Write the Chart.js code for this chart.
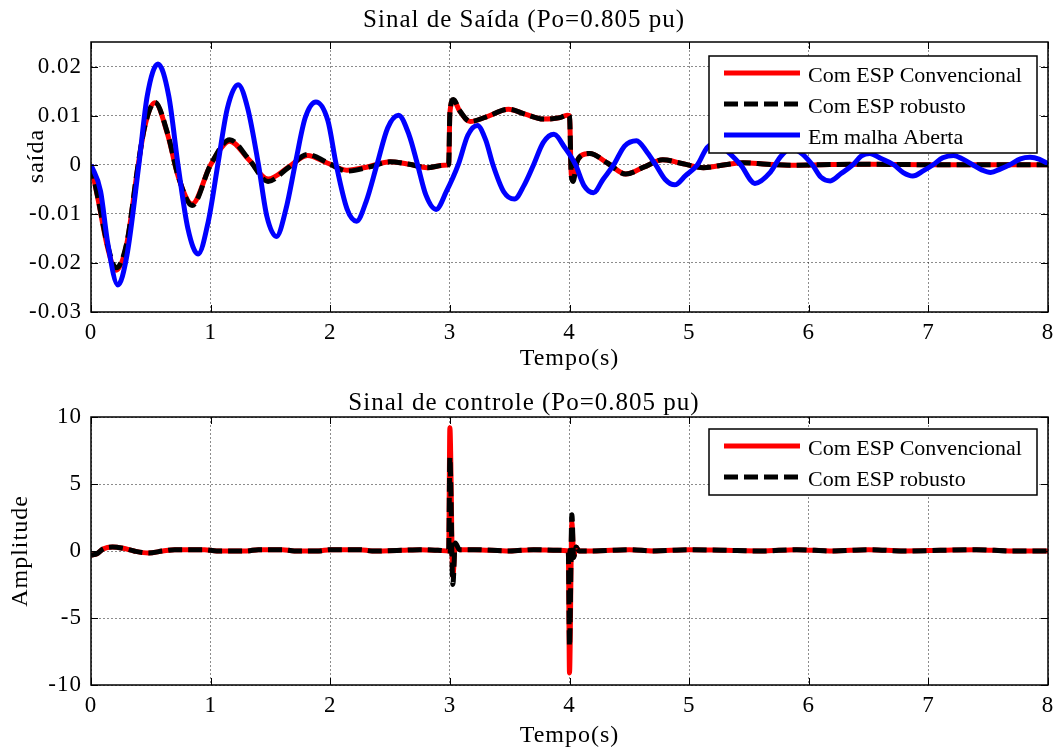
<!DOCTYPE html>
<html>
<head>
<meta charset="utf-8">
<title>Sinal de Saída e Sinal de controle</title>
<script src="https://cdn.jsdelivr.net/npm/chart.js@4.4.1/dist/chart.umd.min.js"></script>
<style>
    body { margin: 0; background: #fff; }
    canvas { display: block; }
</style>
</head>
<body>
<canvas id="saidaChart" width="1061" height="374"></canvas>
<canvas id="controleChart" width="1061" height="374"></canvas>
<script>
// ---- dados ---------------------------------------------------------------

// Sinal de saida, com ESP (convencional e robusto)
const tSaidaEsp = [0, 0.06, 0.14, 0.21, 0.30, 0.39, 0.45, 0.535, 0.64, 0.73, 0.845, 1.0, 1.16, 1.32, 1.48,
    1.65, 1.81, 1.98, 2.14, 2.32, 2.5, 2.66, 2.81, 2.95, 2.99, 3.0, 3.03, 3.08, 3.17, 3.3, 3.49, 3.63, 3.78,
    3.92, 3.98, 4.0, 4.015, 4.03, 4.06, 4.10, 4.17, 4.32, 4.47, 4.62, 4.78, 4.95, 5.12, 5.3, 5.45, 5.65, 5.85,
    6.1, 6.5, 7.0, 7.5, 8.0];
const saidaConvencional = [0, -0.0072, -0.0170, -0.0215, -0.0160, -0.0008, 0.0078, 0.0126, 0.0062, -0.0025,
    -0.0080, 0.0000, 0.0048, 0.0010, -0.0029, -0.0005, 0.0019, 0.0003, -0.0011, -0.0004, 0.0006, 0.0001,
    -0.0006, -0.0001, 0.0000, 0.0105, 0.0132, 0.0110, 0.0088, 0.0097, 0.0113, 0.0103, 0.0093, 0.0096, 0.0101,
    0.0100, -0.0020, -0.0029, 0.0005, 0.0019, 0.0023, 0.0003, -0.0019, -0.0005, 0.0010, 0.0002, -0.0006,
    0.0000, 0.0004, 0.0001, -0.0001, 0.0000, 0.0001, 0.0000, 0.0000, 0.0000];
const saidaRobusto = [0, -0.0070, -0.0165, -0.0210, -0.0158, -0.0006, 0.0079, 0.0127, 0.0064, -0.0024,
    -0.0083, 0.0000, 0.0051, 0.0011, -0.0034, -0.0006, 0.0021, 0.0004, -0.0013, -0.0005, 0.0006, 0.0001,
    -0.0006, -0.0001, 0.0000, 0.0105, 0.0133, 0.0111, 0.0088, 0.0097, 0.0113, 0.0103, 0.0093, 0.0096, 0.0101,
    0.0100, -0.0024, -0.0034, 0.0004, 0.0019, 0.0023, 0.0003, -0.0019, -0.0005, 0.0010, 0.0002, -0.0006,
    0.0000, 0.0004, 0.0001, -0.0001, 0.0000, 0.0001, 0.0000, 0.0000, 0.0000];

// Sinal de saida em malha aberta
const tSaidaAberta = [0, 0.08, 0.14, 0.225, 0.30, 0.40, 0.47, 0.56, 0.65, 0.73, 0.81, 0.895, 0.98, 1.06, 1.14,
    1.23, 1.31, 1.40, 1.47, 1.55, 1.63, 1.71, 1.79, 1.88, 1.98, 2.05, 2.14, 2.22, 2.30, 2.39, 2.48, 2.57, 2.66,
    2.73, 2.80, 2.885, 2.97, 3.07, 3.15, 3.23, 3.30, 3.36, 3.45, 3.54, 3.62, 3.70, 3.78, 3.87, 3.96, 4.05, 4.12,
    4.20, 4.28, 4.37, 4.46, 4.56, 4.65, 4.72, 4.80, 4.88, 4.97, 5.07, 5.15, 5.24, 5.33, 5.43, 5.55, 5.68, 5.76,
    5.85, 5.93, 6.03, 6.10, 6.18, 6.27, 6.37, 6.44, 6.51, 6.60, 6.71, 6.79, 6.87, 6.96, 7.04, 7.12, 7.21, 7.29,
    7.37, 7.45, 7.52, 7.60, 7.68, 7.77, 7.85, 7.93, 8.0];
const saidaAberta = [0, -0.0054, -0.0160, -0.0245, -0.0185, 0.0000, 0.0140, 0.0205, 0.0140, -0.0005, -0.0130,
    -0.0182, -0.0116, 0.0000, 0.0115, 0.0163, 0.0115, 0.0000, -0.0105, -0.0146, -0.0090, 0.0005, 0.0095,
    0.0128, 0.0090, 0.0000, -0.0090, -0.0115, -0.0075, 0.0000, 0.0075, 0.0101, 0.0060, 0.0000, -0.0062,
    -0.0091, -0.0055, 0.0000, 0.0060, 0.0080, 0.0050, 0.0000, -0.0055, -0.0070, -0.0042, 0.0000, 0.0045,
    0.0062, 0.0035, 0.0000, -0.0042, -0.0057, -0.0030, 0.0000, 0.0038, 0.0049, 0.0025, 0.0000, -0.0030,
    -0.0041, -0.0022, 0.0000, 0.0035, 0.0045, 0.0025, 0.0000, -0.0038, -0.0015, 0.0015, 0.0033, 0.0025,
    0.0000, -0.0025, -0.0033, -0.0018, 0.0000, 0.0018, 0.0023, 0.0013, 0.0000, -0.0016, -0.0023, -0.0012,
    0.0000, 0.0014, 0.0019, 0.0011, 0.0000, -0.0011, -0.0016, -0.0009, 0.0000, 0.0012, 0.0015, 0.0011, 0.0002];

// Sinal de controle
const tControle = [0, 0.05, 0.1, 0.18, 0.27, 0.36, 0.48, 0.6, 0.7, 0.95, 1.05, 1.3, 1.4, 1.6, 1.7, 1.9, 2.0,
    2.25, 2.35, 2.6, 2.75, 2.9, 2.99, 3.0, 3.025, 3.045, 3.08, 3.2, 3.5, 3.7, 3.9, 3.99, 4.0, 4.02, 4.035,
    4.055, 4.08, 4.2, 4.5, 4.7, 5.0, 5.3, 5.6, 5.9, 6.2, 6.5, 6.8, 7.1, 7.4, 7.7, 8.0];
const controleConvencional = [-0.3, -0.2, 0.15, 0.3, 0.2, 0.0, -0.15, 0.0, 0.1, 0.1, 0.0, 0.0, 0.1, 0.1, 0.0,
    0.0, 0.1, 0.1, 0.0, 0.05, 0.1, 0.05, 0.0, 9.2, -1.9, 0.4, 0.1, 0.1, 0.0, 0.1, 0.05, 0.0, -9.1, 2.1, -0.4,
    0.3, 0.0, 0.0, 0.1, 0.0, 0.1, 0.05, 0.0, 0.1, 0.0, 0.1, 0.0, 0.05, 0.1, 0.0, 0.0];
const controleRobusto = [-0.3, -0.2, 0.15, 0.3, 0.2, 0.0, -0.15, 0.0, 0.1, 0.1, 0.0, 0.0, 0.1, 0.1, 0.0,
    0.0, 0.1, 0.1, 0.0, 0.05, 0.1, 0.05, 0.0, 7.0, -2.5, 0.6, 0.1, 0.1, 0.0, 0.1, 0.05, 0.0, -7.1, 2.7, -0.5,
    0.3, 0.0, 0.0, 0.1, 0.0, 0.1, 0.05, 0.0, 0.1, 0.0, 0.1, 0.0, 0.05, 0.1, 0.0, 0.0];

// eixos
const tempoTicks = [0, 1, 2, 3, 4, 5, 6, 7, 8];
const saidaTicks = [-0.03, -0.02, -0.01, 0, 0.01, 0.02];
const saidaTickLabels = ['-0.03', '-0.02', '-0.01', '0', '0.01', '0.02'];
const controleTicks = [-10, -5, 0, 5, 10];
const controleTickLabels = ['-10', '-5', '0', '5', '10'];

// ------------------------------------------------------------------------------------

Chart.defaults.font.family = '"Liberation Serif", "Times New Roman", serif';
Chart.defaults.color = '#000';

const corGrade = 'rgba(0, 0, 0, 0.45)';

function pontos(t, y) {
    return t.map((x, i) => ({ x: x, y: y[i] }));
}

// texto um pouco mais largo, como na figura original
const espacamento = {
    id: 'espacamento',
    beforeDraw(chart) {
        chart.ctx.letterSpacing = '1px';
    }
};

// caixa do eixo + marcas de tick para dentro (estilo matlab)
const moldura = {
    id: 'moldura',
    afterDatasetsDraw(chart) {
        const { ctx, chartArea: a, scales } = chart;
        ctx.save();
        ctx.strokeStyle = '#000';
        ctx.lineWidth = 1;
        ctx.beginPath();
        scales.x.ticks.forEach((tk) => {
            const px = Math.round(scales.x.getPixelForValue(tk.value)) + 0.5;
            ctx.moveTo(px, a.top); ctx.lineTo(px, a.top + 7);
            ctx.moveTo(px, a.bottom); ctx.lineTo(px, a.bottom - 7);
        });
        scales.y.ticks.forEach((tk) => {
            const py = Math.round(scales.y.getPixelForValue(tk.value)) + 0.5;
            ctx.moveTo(a.left, py); ctx.lineTo(a.left + 7, py);
            ctx.moveTo(a.right, py); ctx.lineTo(a.right - 7, py);
        });
        ctx.stroke();
        ctx.lineWidth = 1.5;
        ctx.strokeRect(a.left, a.top, a.right - a.left, a.bottom - a.top);
        ctx.restore();
    }
};

// legenda com caixa, no canto superior direito
const caixaLegenda = {
    id: 'caixaLegenda',
    afterDraw(chart, args, opts) {
        const { ctx, chartArea: a } = chart;
        const sets = chart.data.datasets;
        const w = opts.width;
        const h = 20 + (sets.length - 1) * 31 + 15;
        const x0 = a.right - opts.right - w;
        const y0 = a.top + opts.top;
        ctx.save();
        ctx.letterSpacing = '0px';
        ctx.fillStyle = '#fff';
        ctx.fillRect(x0, y0, w, h);
        ctx.strokeStyle = '#000';
        ctx.lineWidth = 1.5;
        ctx.strokeRect(x0, y0, w, h);
        ctx.font = '22px "Liberation Serif", serif';
        ctx.textBaseline = 'middle';
        sets.forEach((ds, i) => {
            const yc = y0 + 20 + i * 31;
            ctx.strokeStyle = ds.borderColor;
            ctx.lineWidth = ds.borderWidth;
            ctx.setLineDash(ds.borderDash || []);
            ctx.beginPath();
            ctx.moveTo(x0 + 15, yc - 3);
            ctx.lineTo(x0 + 91, yc - 3);
            ctx.stroke();
            ctx.setLineDash([]);
            ctx.fillStyle = '#000';
            ctx.fillText(ds.label, x0 + 99, yc);
        });
        ctx.restore();
    }
};

function eixos(yMin, yMax, yTicks, yLabels, yTitulo, yTituloPad, xAltura, xTituloPad) {
    return {
        x: {
            type: 'linear',
            min: 0,
            max: 8,
            afterBuildTicks: (s) => { s.ticks = tempoTicks.map((v) => ({ value: v })); },
            afterFit: (s) => { s.height = xAltura; },
            ticks: { padding: 7, maxRotation: 0, font: { size: 23 }, callback: (v) => String(v) },
            grid: { color: corGrade, drawTicks: false },
            border: { display: false, dash: [2, 2] },
            title: { display: true, text: 'Tempo(s)', font: { size: 24, lineHeight: 1 }, padding: { bottom: xTituloPad } }
        },
        y: {
            type: 'linear',
            min: yMin,
            max: yMax,
            afterBuildTicks: (s) => { s.ticks = yTicks.map((v) => ({ value: v })); },
            afterFit: (s) => { s.width = 91; },
            ticks: { padding: 9, font: { size: 23 }, callback: (v, i) => yLabels[i] },
            grid: { color: corGrade, drawTicks: false },
            border: { display: false, dash: [2, 2] },
            title: { display: true, text: yTitulo, font: { size: 24, lineHeight: 1 }, padding: { top: yTituloPad } }
        }
    };
}

function serie(label, t, y, cor, ordem, tracejado) {
    return {
        label: label,
        data: pontos(t, y),
        borderColor: cor,
        backgroundColor: cor,
        borderWidth: 5,
        borderDash: tracejado ? [14, 6] : [],
        pointRadius: 0,
        fill: false,
        cubicInterpolationMode: 'monotone',
        order: ordem
    };
}

// *************************
var ctxSaida = document.getElementById('saidaChart').getContext('2d');
var saidaChart = new Chart(ctxSaida, {
    type: 'line',
    data: {
        datasets: [
            serie('Com ESP Convencional', tSaidaEsp, saidaConvencional, '#ff0000', 3, false),
            serie('Com ESP robusto', tSaidaEsp, saidaRobusto, '#000000', 2, true),
            serie('Em malha Aberta', tSaidaAberta, saidaAberta, '#0000ff', 1, false)
        ]
    },
    options: {
        responsive: false,
        animation: false,
        devicePixelRatio: 1,
        layout: { padding: { left: 0, right: 13, top: 0, bottom: 0 } },
        scales: eixos(-0.03, 0.025, saidaTicks, saidaTickLabels, '      saída', 25, 62, 3),
        plugins: {
            legend: { display: false },
            tooltip: { enabled: false },
            title: {
                display: true,
                text: 'Sinal de Saída (Po=0.805 pu)',
                font: { size: 25, weight: 'normal', lineHeight: 1.2 },
                padding: { top: 5, bottom: 7 }
            },
            caixaLegenda: { width: 328, right: 11, top: 14 }
        }
    },
    plugins: [espacamento, moldura, caixaLegenda]
});

// *************************
var ctxControle = document.getElementById('controleChart').getContext('2d');
var controleChart = new Chart(ctxControle, {
    type: 'line',
    data: {
        datasets: [
            serie('Com ESP Convencional', tControle, controleConvencional, '#ff0000', 2, false),
            serie('Com ESP robusto', tControle, controleRobusto, '#000000', 1, true)
        ]
    },
    options: {
        responsive: false,
        animation: false,
        devicePixelRatio: 1,
        layout: { padding: { left: 0, right: 13, top: 0, bottom: 0 } },
        scales: eixos(-10, 10, controleTicks, controleTickLabels, 'Amplitude', 9, 63, 0),
        plugins: {
            legend: { display: false },
            tooltip: { enabled: false },
            title: {
                display: true,
                text: 'Sinal de controle (Po=0.805 pu)',
                font: { size: 25, weight: 'normal', lineHeight: 1.2 },
                padding: { top: 14, bottom: -1 }
            },
            caixaLegenda: { width: 328, right: 11, top: 12 }
        }
    },
    plugins: [espacamento, moldura, caixaLegenda]
});
</script>
</body>
</html>
